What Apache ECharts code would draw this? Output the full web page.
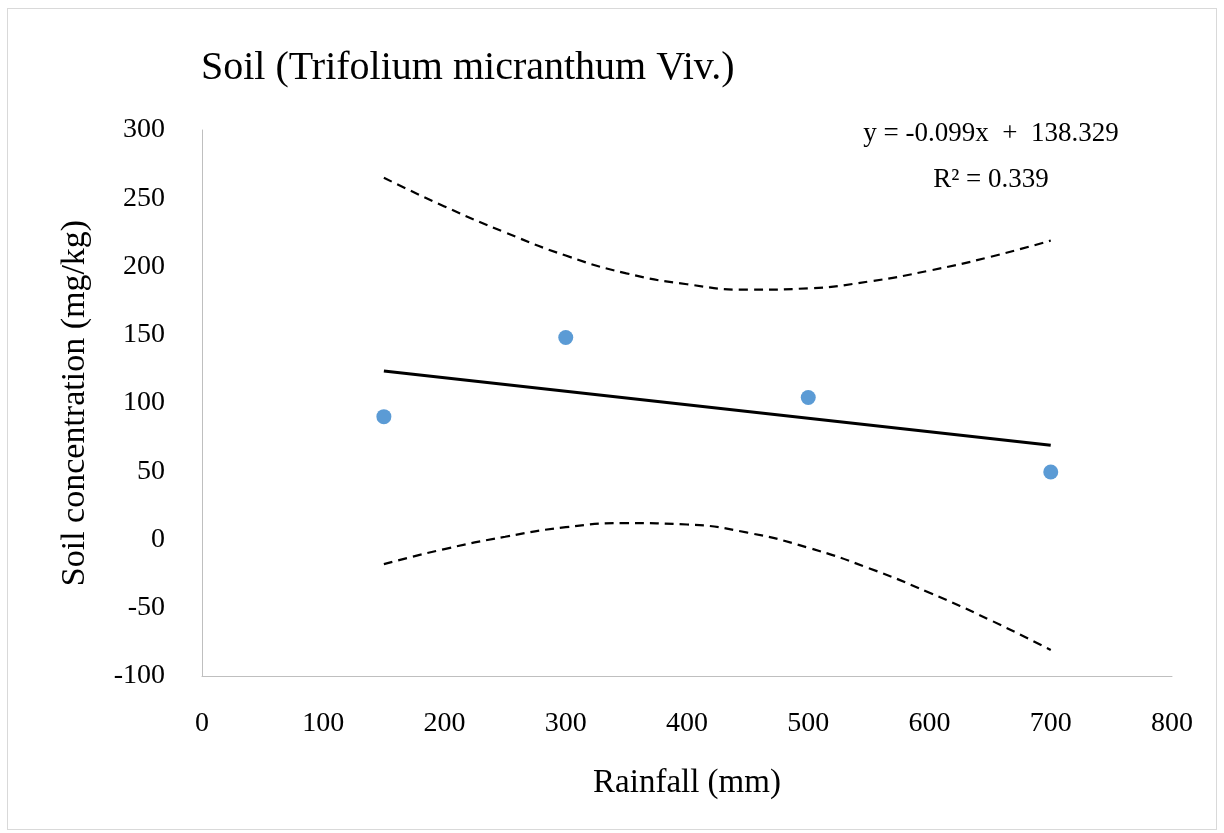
<!DOCTYPE html>
<html>
<head>
<meta charset="utf-8">
<script src="https://cdn.jsdelivr.net/npm/echarts@6/dist/echarts.min.js"></script>
<style>
  html, body { margin: 0; padding: 0; background: #fff; }
  #frame { position: absolute; left: 7px; top: 8px; width: 1210px; height: 822px; border: 1px solid #d9d9d9; box-sizing: border-box; }
  #chart { position: absolute; left: 0; top: 0; width: 1224px; height: 833px; }
</style>
</head>
<body>
<div id="frame"></div>
<div id="chart"></div>
<script>
// observed points
const rainfall = [150, 300, 500, 700]
const soil = [90, 148, 104, 49.5]

// trend line end points (y = -0.099x + 138.329)
const trendX = [150, 700]
const trendY = [123.5, 69.0]

// dashed band curves
const bandX = [150, 200, 250, 300, 350, 400, 450, 500, 550, 600, 650, 700]
const bandUpper = [265, 244, 225, 208, 195, 187, 183, 184, 189, 197, 207, 219]
const bandLower = [-18, -7, 2, 9, 12, 11, 5, -6, -21, -39, -59, -81]

const equationText = 'y = -0.099x  +  138.329'
const r2Text = 'R² = 0.339'

const serif = '"Liberation Serif", "DejaVu Serif", serif'
const zip = (xs, ys) => xs.map((x, i) => [x, ys[i]])

const chart = echarts.init(document.getElementById('chart'))
chart.setOption({
  animation: false,
  textStyle: { fontFamily: serif, color: '#000' },
  title: {
    text: 'Soil (Trifolium micranthum Viv.)',
    left: 196,
    top: 43,
    textStyle: { fontFamily: serif, fontSize: 40, fontWeight: 'normal', color: '#000' }
  },
  grid: { left: 202, right: 52, top: 130, bottom: 157 },
  xAxis: {
    type: 'value',
    min: 0,
    max: 800,
    interval: 100,
    name: 'Rainfall (mm)',
    nameLocation: 'middle',
    nameGap: 91,
    nameTextStyle: { fontFamily: serif, fontSize: 33, color: '#000' },
    axisLine: { onZero: false, lineStyle: { color: '#bfbfbf', width: 1 } },
    axisTick: { show: false },
    splitLine: { show: false },
    axisLabel: { fontFamily: serif, fontSize: 28, color: '#000', margin: 34 }
  },
  yAxis: {
    type: 'value',
    min: -100,
    max: 300,
    interval: 50,
    name: 'Soil concentration (mg/kg)',
    nameLocation: 'middle',
    nameGap: 110,
    nameTextStyle: { fontFamily: serif, fontSize: 34, color: '#000' },
    axisLine: { show: true, lineStyle: { color: '#bfbfbf', width: 1 } },
    axisTick: { show: false },
    splitLine: { show: false },
    axisLabel: { fontFamily: serif, fontSize: 28, color: '#000', margin: 37 }
  },
  graphic: [
    { type: 'text', x: 991, y: 134, style: { text: equationText, font: '27px ' + serif, fill: '#000', align: 'center', verticalAlign: 'middle' } },
    { type: 'text', x: 991, y: 180, style: { text: r2Text, font: '27px ' + serif, fill: '#000', align: 'center', verticalAlign: 'middle' } }
  ],
  series: [
    {
      type: 'line',
      data: zip(bandX, bandUpper),
      smooth: true,
      symbol: 'none',
      lineStyle: { color: '#000', width: 2.2, type: [9, 6] }
    },
    {
      type: 'line',
      data: zip(bandX, bandLower),
      smooth: true,
      symbol: 'none',
      lineStyle: { color: '#000', width: 2.2, type: [9, 6] }
    },
    {
      type: 'line',
      data: zip(trendX, trendY),
      symbol: 'none',
      lineStyle: { color: '#000', width: 3 }
    },
    {
      type: 'scatter',
      data: zip(rainfall, soil),
      symbolSize: 15,
      itemStyle: { color: '#5b9bd5', opacity: 1 }
    }
  ]
})
</script>
</body>
</html>
